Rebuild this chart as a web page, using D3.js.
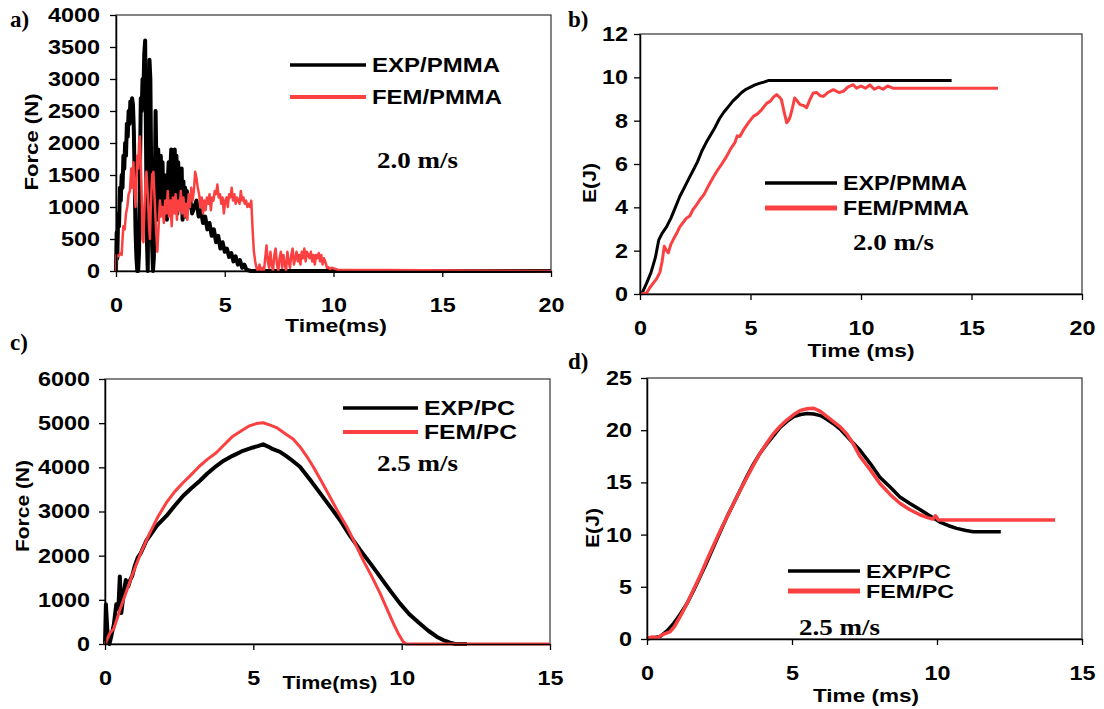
<!DOCTYPE html>
<html>
<head>
<meta charset="utf-8">
<script src="https://cdn.jsdelivr.net/npm/d3@7"></script>
<style>
  body { margin: 0; background: #fff; }
  text { font-family: "Liberation Sans", Arial, sans-serif; font-weight: bold; fill: #000; }
  .serif { font-family: "Liberation Serif", "Times New Roman", serif; }
</style>
</head>
<body>
<div id="holder"></div>
<script>
const w = 1104;
const h = 709;
const RED = "#fa4040";

// a) force, PMMA 2.0 m/s  [time ms, force N]
const aExp = [[0,0],[0.03,600],[0.06,200],[0.1,900],[0.14,700],[0.18,1300],[0.22,1100],[0.26,1500],[0.3,1300],[0.34,1800],[0.38,1600],[0.42,2000],[0.46,1800],[0.5,2300],[0.54,2100],[0.58,2500],[0.62,2300],[0.66,2650],[0.7,2500],[0.74,2700],[0.78,2600],[0.82,2200],[0.86,1400],[0.9,600],[0.94,200],[0.98,0],[1.02,0],[1.06,300],[1.1,1500],[1.14,2700],[1.18,2500],[1.22,3000],[1.26,2800],[1.3,3400],[1.34,3600],[1.38,2000],[1.42,500],[1.46,0],[1.5,1800],[1.54,3300],[1.58,3000],[1.62,1500],[1.66,400],[1.7,0],[1.74,200],[1.78,1200],[1.82,2500],[1.86,1600],[1.9,800],[1.94,1900],[1.98,1400],[2.02,1000],[2.06,1800],[2.1,1200],[2.14,1700],[2.18,1000],[2.22,1500],[2.26,900],[2.3,1300],[2.34,800],[2.38,1400],[2.42,1700],[2.46,1000],[2.5,1600],[2.54,1900],[2.58,1300],[2.62,1800],[2.66,1100],[2.7,1900],[2.74,1300],[2.78,1800],[2.82,900],[2.86,1700],[2.9,1200],[2.94,1500],[2.98,1000],[3.02,1600],[3.06,800],[3.1,1400],[3.14,900],[3.18,1300],[3.22,850],[3.26,1250],[3.3,1000],[3.4,1150],[3.5,900],[3.6,1000],[3.7,1100],[3.8,850],[3.9,950],[4.0,750],[4.1,850],[4.2,650],[4.3,750],[4.4,550],[4.5,650],[4.6,450],[4.7,550],[4.8,350],[4.9,450],[5.0,300],[5.1,350],[5.2,220],[5.3,280],[5.4,150],[5.5,230],[5.6,100],[5.7,170],[5.8,50],[5.9,100],[6.0,20],[6.2,0],[20,0]];
const aFem = [[0,0],[0.02,250],[0.1,230],[0.2,280],[0.26,250],[0.3,500],[0.34,700],[0.4,650],[0.46,900],[0.52,1000],[0.58,1200],[0.64,1250],[0.7,1600],[0.74,1300],[0.8,1700],[0.86,1200],[0.9,1000],[0.94,1400],[0.98,1800],[1.02,1600],[1.06,2000],[1.1,2100],[1.14,1700],[1.18,1200],[1.22,500],[1.26,450],[1.3,900],[1.36,1400],[1.4,1550],[1.46,1200],[1.52,700],[1.56,500],[1.6,1000],[1.66,1500],[1.72,1550],[1.78,1100],[1.84,650],[1.9,300],[1.96,700],[2.02,1100],[2.08,850],[2.14,1000],[2.2,750],[2.26,1100],[2.32,900],[2.38,1250],[2.44,850],[2.5,1100],[2.56,700],[2.62,1150],[2.68,900],[2.74,1200],[2.8,800],[2.86,1100],[2.92,950],[2.98,1250],[3.04,900],[3.1,1150],[3.16,850],[3.22,1050],[3.28,800],[3.34,1200],[3.4,1000],[3.46,1300],[3.52,1100],[3.58,1250],[3.64,1550],[3.7,1450],[3.76,1300],[3.82,1200],[3.88,1000],[3.94,1150],[4.0,900],[4.06,1100],[4.12,950],[4.18,1150],[4.24,1050],[4.3,1200],[4.36,950],[4.42,1150],[4.48,1100],[4.54,1250],[4.6,1200],[4.66,1350],[4.72,1150],[4.78,1200],[4.84,1050],[4.9,1150],[4.96,900],[5.02,1100],[5.08,1150],[5.14,1000],[5.2,1200],[5.26,1150],[5.32,1300],[5.38,1100],[5.44,1200],[5.5,1050],[5.56,1150],[5.62,1100],[5.68,1050],[5.74,1250],[5.8,1100],[5.86,1150],[5.92,1050],[5.98,1100],[6.04,1000],[6.1,1050],[6.16,1000],[6.22,1100],[6.28,650],[6.34,300],[6.4,150],[6.46,50],[6.52,0],[6.6,100],[6.66,0],[6.74,50],[6.8,0],[6.86,200],[6.92,400],[6.98,150],[7.04,50],[7.1,300],[7.16,100],[7.22,0],[7.28,250],[7.34,350],[7.4,100],[7.46,0],[7.52,200],[7.58,300],[7.64,50],[7.7,250],[7.76,100],[7.82,0],[7.88,300],[7.94,150],[8.0,50],[8.06,250],[8.12,350],[8.18,100],[8.24,200],[8.3,300],[8.36,150],[8.42,250],[8.48,100],[8.54,300],[8.6,200],[8.66,350],[8.72,150],[8.78,300],[8.84,250],[8.9,200],[8.96,300],[9.02,150],[9.08,250],[9.14,100],[9.2,250],[9.26,200],[9.32,280],[9.38,150],[9.44,250],[9.5,100],[9.56,200],[9.62,150],[9.7,50],[9.76,60],[9.84,30],[9.9,50],[10.2,20],[20,0]];

// b) energy, PMMA 2.0 m/s  [time ms, E J]
const bExp = [[0,0],[0.1,0.05],[0.3,0.5],[0.5,1.0],[0.7,1.7],[0.85,2.5],[1.0,2.8],[1.2,3.1],[1.4,3.5],[1.6,4.0],[1.8,4.5],[2.0,4.9],[2.2,5.3],[2.4,5.7],[2.6,6.1],[2.8,6.6],[3.0,7.0],[3.2,7.35],[3.4,7.7],[3.6,8.1],[3.8,8.4],[4.0,8.65],[4.2,8.9],[4.4,9.1],[4.6,9.3],[4.8,9.45],[5.0,9.55],[5.2,9.65],[5.4,9.72],[5.6,9.78],[5.8,9.85],[14.1,9.85]];
const bFem = [[0,0],[0.3,0.05],[0.45,0.3],[0.6,0.5],[0.75,0.7],[0.9,1.0],[1.0,1.5],[1.1,2.2],[1.2,2.0],[1.28,1.9],[1.4,2.3],[1.5,2.5],[1.66,2.8],[1.8,3.1],[1.95,3.3],[2.1,3.5],[2.25,3.6],[2.4,3.9],[2.55,4.1],[2.71,4.35],[2.9,4.6],[3.1,5.0],[3.32,5.4],[3.5,5.7],[3.7,6.0],[3.92,6.35],[4.1,6.7],[4.3,7.0],[4.4,7.3],[4.52,7.27],[4.7,7.6],[4.9,7.9],[5.13,8.2],[5.3,8.3],[5.5,8.5],[5.73,8.8],[5.9,8.9],[6.05,9.1],[6.18,9.2],[6.3,9.1],[6.4,8.97],[6.5,8.5],[6.64,7.9],[6.72,8.0],[6.8,8.2],[6.9,8.6],[7.0,9.05],[7.12,8.9],[7.24,8.74],[7.4,8.7],[7.54,8.6],[7.7,9.0],[7.84,9.28],[8.0,9.3],[8.15,9.15],[8.3,9.12],[8.5,9.3],[8.75,9.43],[9.0,9.3],[9.2,9.35],[9.4,9.55],[9.65,9.66],[9.8,9.5],[10.0,9.6],[10.2,9.5],[10.4,9.65],[10.6,9.45],[10.8,9.55],[11.0,9.45],[11.2,9.6],[11.45,9.5],[16.2,9.5]];

// c) force, PC 2.5 m/s
const cExp = [[0,0],[0.03,900],[0.08,300],[0.15,0],[0.22,200],[0.3,450],[0.38,900],[0.45,800],[0.5,1530],[0.55,700],[0.62,1100],[0.7,1450],[0.78,1300],[0.85,1450],[0.92,1550],[1.0,1760],[1.1,1950],[1.2,2050],[1.3,2200],[1.4,2350],[1.5,2440],[1.75,2680],[2.07,2900],[2.35,3130],[2.63,3350],[2.9,3520],[3.19,3690],[3.45,3860],[3.75,4030],[4.0,4150],[4.3,4260],[4.6,4360],[4.99,4450],[5.15,4480],[5.33,4520],[5.5,4470],[5.66,4410],[5.9,4350],[6.1,4260],[6.3,4160],[6.57,4014],[6.9,3730],[7.25,3415],[7.6,3100],[7.92,2807],[8.25,2460],[8.6,2128],[8.95,1820],[9.27,1524],[9.6,1220],[9.94,920],[10.25,680],[10.6,468],[10.9,300],[11.18,166],[11.4,90],[11.63,30],[11.8,0],[12.2,0]];
const cFem = [[0,0],[0.16,240],[0.3,350],[0.5,770],[0.7,1150],[0.94,1600],[1.2,2050],[1.5,2500],[1.8,2900],[2.07,3200],[2.35,3450],[2.63,3650],[2.9,3830],[3.19,4030],[3.45,4180],[3.75,4330],[4.0,4500],[4.3,4700],[4.6,4830],[4.87,4940],[5.1,4990],[5.33,5010],[5.55,4960],[5.78,4900],[5.9,4845],[6.1,4750],[6.34,4640],[6.57,4467],[6.8,4250],[7.02,4014],[7.3,3680],[7.58,3335],[7.85,3000],[8.15,2656],[8.4,2320],[8.7,1900],[9.0,1520],[9.27,1150],[9.5,800],[9.72,468],[9.9,220],[10.05,50],[10.15,0],[15,0]];

// d) energy, PC 2.5 m/s
const dExp = [[0,0],[0.46,0.25],[0.7,0.8],[0.92,1.5],[1.15,2.4],[1.38,3.4],[1.6,4.6],[1.84,6.0],[2.07,7.4],[2.3,8.85],[2.53,10.3],[2.76,11.7],[2.99,13.0],[3.22,14.3],[3.45,15.6],[3.68,16.8],[3.9,17.8],[4.14,18.7],[4.37,19.5],[4.6,20.3],[4.83,20.85],[5.06,21.3],[5.3,21.5],[5.52,21.6],[5.75,21.55],[5.98,21.4],[6.2,21.05],[6.44,20.6],[6.66,20.1],[6.9,19.4],[7.1,18.8],[7.34,18.1],[7.7,16.8],[8.03,15.5],[8.4,14.5],[8.72,13.6],[9.05,13.0],[9.41,12.4],[9.75,11.8],[10.1,11.2],[10.4,10.85],[10.68,10.6],[11.0,10.4],[11.25,10.28],[12.2,10.28]];
const dFem = [[0,0.1],[0.2,0.2],[0.35,0.1],[0.46,0.3],[0.6,0.5],[0.8,0.7],[0.95,1.2],[1.15,2.2],[1.38,3.4],[1.6,4.7],[1.84,6.1],[2.07,7.6],[2.3,9.0],[2.53,10.4],[2.76,11.7],[2.99,13.0],[3.22,14.3],[3.45,15.5],[3.68,16.7],[3.9,17.8],[4.14,18.8],[4.37,19.7],[4.6,20.4],[4.83,21.0],[5.06,21.5],[5.29,21.9],[5.52,22.05],[5.75,22.1],[5.98,21.8],[6.21,21.3],[6.44,20.8],[6.67,20.3],[6.9,19.6],[7.13,18.6],[7.34,17.5],[7.7,16.2],[8.03,14.9],[8.4,13.8],[8.72,13.0],[9.05,12.4],[9.41,11.9],[9.7,11.6],[9.85,11.5],[9.95,11.8],[10.05,11.4],[14.07,11.4]];

// tick values
const forceTicksA = [0, 500, 1000, 1500, 2000, 2500, 3000, 3500, 4000];
const energyTicksB = [0, 2, 4, 6, 8, 10, 12];
const forceTicksC = [0, 1000, 2000, 3000, 4000, 5000, 6000];
const energyTicksD = [0, 5, 10, 15, 20, 25];
const timeTicks20 = [0, 5, 10, 15, 20];
const timeTicks15 = [0, 5, 10, 15];

const svg = d3.select("#holder")
    .append("svg")
    .attr("width", w)
    .attr("height", h);

function squeeze(sel, perChar) {
    sel.attr("textLength", function () { return this.textContent.length * perChar; })
       .attr("lengthAdjust", "spacingAndGlyphs");
}

function drawPanel(p) {
    const x = d3.scaleLinear().domain(p.xDomain).range([p.left, p.right]);
    const y = d3.scaleLinear().domain(p.yDomain).range([p.bottom, p.top]);

    // frame
    svg.append("rect")
        .attr("x", p.left).attr("y", p.top)
        .attr("width", p.right - p.left).attr("height", p.bottom - p.top)
        .attr("fill", "none").attr("stroke", "#333").attr("stroke-width", 1.2);

    // lines
    const line = d3.line().x(d => x(d[0])).y(d => y(d[1]));
    p.series.forEach(s => {
        svg.append("path")
            .datum(s.data)
            .attr("d", line)
            .attr("fill", "none")
            .attr("stroke", s.color)
            .attr("stroke-width", s.width)
            .attr("stroke-linejoin", "round");
    });

    // axes
    const gx = svg.append("g")
        .attr("transform", "translate(0," + p.bottom + ")")
        .call(d3.axisBottom(x).tickValues(p.xTicks).tickFormat(d3.format("d"))
            .tickSize(6).tickSizeOuter(0).tickPadding(21));
    const gy = svg.append("g")
        .attr("transform", "translate(" + p.left + ",0)")
        .call(d3.axisLeft(y).tickValues(p.yTicks).tickFormat(d3.format("d"))
            .tickSize(6).tickSizeOuter(0).tickPadding(p.yPad));
    [gx, gy].forEach(g => {
        g.select(".domain").attr("stroke", "#000").attr("stroke-width", 1.5);
        g.selectAll(".tick line").attr("stroke", "#000").attr("stroke-width", 1.3);
        g.selectAll(".tick text")
            .attr("font-family", "Liberation Sans, Arial, sans-serif")
            .attr("font-weight", "bold")
            .attr("font-size", 20)
            .attr("fill", "#000")
            .call(squeeze, 13);
    });

    // axis titles
    svg.append("text")
        .attr("x", p.xTitle[0]).attr("y", p.xTitle[1])
        .attr("text-anchor", "middle").attr("font-size", 18)
        .attr("textLength", p.xTitle[2]).attr("lengthAdjust", "spacingAndGlyphs")
        .text(p.xLabel);
    svg.append("text")
        .attr("transform", "translate(" + p.yTitle[0] + "," + p.yTitle[1] + ") rotate(-90)")
        .attr("text-anchor", "middle").attr("font-size", 19)
        .attr("textLength", p.yTitle[2]).attr("lengthAdjust", "spacingAndGlyphs")
        .text(p.yLabel);

    // panel tag
    svg.append("text").attr("class", "serif")
        .attr("x", p.tag[0]).attr("y", p.tag[1])
        .attr("font-size", 23)
        .text(p.tagText);

    // legend
    p.legend.forEach((l, i) => {
        svg.append("line")
            .attr("x1", p.legX[0]).attr("x2", p.legX[1])
            .attr("y1", p.legY[i]).attr("y2", p.legY[i])
            .attr("stroke", p.series[i].color)
            .attr("stroke-width", l.width);
        svg.append("text")
            .attr("x", p.legX[1] + 6).attr("y", p.legY[i] + 6.5)
            .attr("font-size", p.legFont)
            .attr("textLength", l.len).attr("lengthAdjust", "spacingAndGlyphs")
            .text(l.name);
    });

    // speed note
    svg.append("text").attr("class", "serif")
        .attr("x", p.note[0]).attr("y", p.note[1])
        .attr("font-size", 23)
        .attr("textLength", 81).attr("lengthAdjust", "spacingAndGlyphs")
        .text(p.noteText);
}

drawPanel({
    left: 116, right: 551, top: 15, bottom: 271,
    xDomain: [0, 20], yDomain: [0, 4000], xTicks: timeTicks20, yTicks: forceTicksA, yPad: 10,
    series: [{ data: aExp, color: "#000", width: 4 }, { data: aFem, color: RED, width: 2.5 }],
    xLabel: "Time(ms)", xTitle: [336, 332, 102],
    yLabel: "Force (N)", yTitle: [38, 142, 97],
    tagText: "a)", tag: [10, 27],
    legX: [290, 366], legY: [65, 97], legFont: 21,
    legend: [{ name: "EXP/PMMA", len: 128, width: 3.5 }, { name: "FEM/PMMA", len: 130, width: 4 }],
    noteText: "2.0 m/s", note: [377, 168]
});

drawPanel({
    left: 640, right: 1082, top: 34, bottom: 294,
    xDomain: [0, 20], yDomain: [0, 12], xTicks: timeTicks20, yTicks: energyTicksB, yPad: 6,
    series: [{ data: bExp, color: "#000", width: 3 }, { data: bFem, color: RED, width: 3 }],
    xLabel: "Time (ms)", xTitle: [861, 357, 107],
    yLabel: "E(J)", yTitle: [596, 183, 40],
    tagText: "b)", tag: [568, 27],
    legX: [765, 837], legY: [183, 208], legFont: 21,
    legend: [{ name: "EXP/PMMA", len: 124, width: 3.5 }, { name: "FEM/PMMA", len: 126, width: 5 }],
    noteText: "2.0 m/s", note: [853, 250]
});

drawPanel({
    left: 105, right: 550, top: 379, bottom: 644,
    xDomain: [0, 15], yDomain: [0, 6000], xTicks: timeTicks15, yTicks: forceTicksC, yPad: 9,
    series: [{ data: cExp, color: "#000", width: 4 }, { data: cFem, color: RED, width: 3 }],
    xLabel: "Time(ms)", xTitle: [330, 689, 95],
    yLabel: "Force (N)", yTitle: [29, 506, 92],
    tagText: "c)", tag: [10, 350],
    legX: [343, 418], legY: [408, 432], legFont: 21,
    legend: [{ name: "EXP/PC", len: 91, width: 3.5 }, { name: "FEM/PC", len: 93, width: 4 }],
    noteText: "2.5 m/s", note: [377, 471]
});

drawPanel({
    left: 647, right: 1082, top: 378, bottom: 639,
    xDomain: [0, 15], yDomain: [0, 25], xTicks: timeTicks15, yTicks: energyTicksD, yPad: 9,
    series: [{ data: dExp, color: "#000", width: 3.5 }, { data: dFem, color: RED, width: 3.5 }],
    xLabel: "Time (ms)", xTitle: [866, 702, 106],
    yLabel: "E(J)", yTitle: [599, 528, 40],
    tagText: "d)", tag: [568, 369],
    legX: [788, 860], legY: [571, 591], legFont: 18,
    legend: [{ name: "EXP/PC", len: 85, width: 3.5 }, { name: "FEM/PC", len: 88, width: 5 }],
    noteText: "2.5 m/s", note: [799, 635]
});
</script>
</body>
</html>
